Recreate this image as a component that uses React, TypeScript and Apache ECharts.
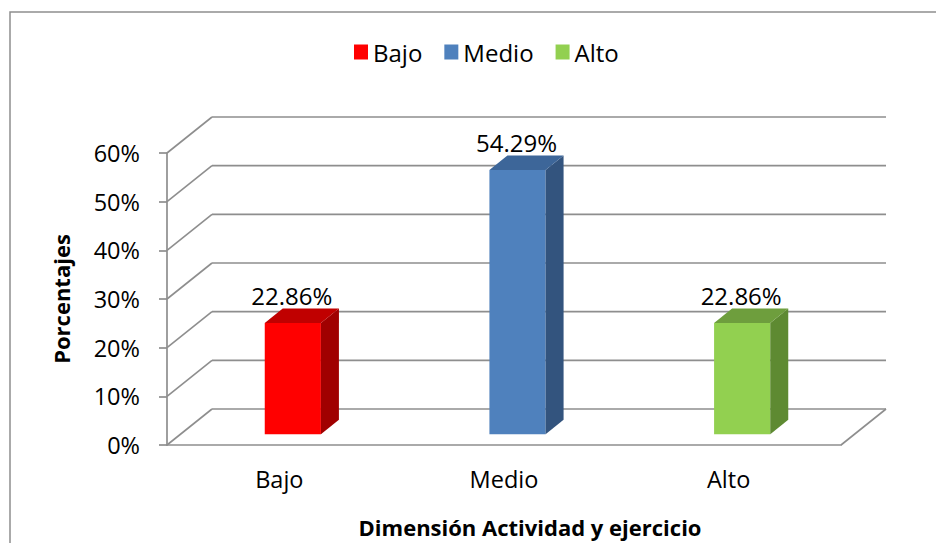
import React, { useEffect, useRef } from "react";
import * as echarts from "echarts";

const categories = ["Bajo", "Medio", "Alto"];
const values = [22.86, 54.29, 22.86];
const yTicks = [0, 10, 20, 30, 40, 50, 60];
const frontColors = ["#FF0000", "#4F81BD", "#92D050"];
const sideColors = ["#A00000", "#33547E", "#5E8A32"];
const topColors = ["#C00000", "#3D6699", "#6E9E3D"];

const DX = 45;
const DY = -36;
const GRAY = "#8e8e8e";
const FONT = "Open Sans";

export default function App() {
  const ref = useRef<HTMLDivElement>(null);
  useEffect(() => {
    if (!ref.current) return;
    const chart = echarts.init(ref.current, null, { renderer: "svg" });

    const frameSeries: any = {
      type: "custom",
      name: "frame",
      z: 1,
      silent: true,
      encode: { x: 0, y: 1 },
      data: yTicks.map((t) => [0, t]),
      renderItem: (params: any, api: any) => {
        const cs = params.coordSys;
        const v = api.value(1);
        const y = api.coord([0, v])[1];
        const x0 = cs.x;
        const x1 = cs.x + cs.width;
        const ls = { stroke: GRAY, lineWidth: 1.7, fill: "none" };
        const children: any[] = [
          { type: "line", shape: { x1: x0, y1: y, x2: x0 + DX, y2: y + DY }, style: ls },
          { type: "line", shape: { x1: x0 + DX, y1: y + DY, x2: x1 + DX, y2: y + DY }, style: ls },
        ];
        if (v === 0) {
          children.push({ type: "line", shape: { x1: x1, y1: y, x2: x1 + DX, y2: y + DY }, style: ls });
        }
        return { type: "group", children };
      },
    };

    const barSeries: any[] = categories.map((name, i) => ({
      type: "custom",
      name,
      z: 3,
      encode: { x: 0, y: 1 },
      itemStyle: { color: frontColors[i] },
      data: [[i, values[i]]],
      renderItem: (params: any, api: any) => {
        const idx = api.value(0);
        const v = api.value(1);
        const top = api.coord([idx, v]);
        const base = api.coord([idx, 0]);
        const band = api.size([1, 0])[0];
        const w = band * 0.25;
        const f0 = 0.3;
        const f1 = 0.7;
        const xl = top[0] - w / 2 + DX * f0;
        const xr = top[0] + w / 2 + DX * f0;
        const yt = top[1] + DY * f0;
        const yb = base[1] + DY * f0;
        const dx = DX * (f1 - f0);
        const dy = DY * (f1 - f0);
        return {
          type: "group",
          children: [
            { type: "rect", shape: { x: xl, y: yt, width: w, height: yb - yt }, style: { fill: frontColors[i] } },
            {
              type: "polygon",
              shape: { points: [[xr, yb], [xr, yt], [xr + dx, yt + dy], [xr + dx, yb + dy]] },
              style: { fill: sideColors[i] },
            },
            {
              type: "polygon",
              shape: { points: [[xl, yt], [xr, yt], [xr + dx, yt + dy], [xl + dx, yt + dy]] },
              style: { fill: topColors[i] },
            },
            {
              type: "text",
              x: (xl + xr) / 2 - 1,
              y: yt + dy - 13,
              style: {
                text: v.toFixed(2) + "%",
                fill: "#000",
                fontSize: 24,
                fontFamily: FONT,
                align: "center",
                verticalAlign: "middle",
              },
            },
          ],
        };
      },
    }));

    chart.setOption({
      animation: false,
      backgroundColor: "#fff",
      textStyle: { fontFamily: FONT },
      legend: {
        left: 349,
        top: 35,
        icon: "rect",
        itemWidth: 14,
        itemHeight: 15,
        itemGap: 22,
        data: categories,
        textStyle: { fontSize: 24, color: "#000", fontFamily: FONT },
      },
      grid: { left: 167, right: 95, top: 153, bottom: 98 },
      xAxis: {
        type: "category",
        data: categories,
        axisLine: { show: true, lineStyle: { color: GRAY, width: 1.7 } },
        axisTick: { show: false },
        axisLabel: { fontSize: 23.5, color: "#000", margin: 22, fontFamily: FONT },
        splitLine: { show: false },
      },
      yAxis: {
        type: "value",
        min: 0,
        max: 60,
        interval: 10,
        name: "Porcentajes",
        nameLocation: "middle",
        nameGap: 95,
        nameTextStyle: { fontSize: 22, fontWeight: "bold", color: "#000", fontFamily: FONT },
        axisLine: { show: true, lineStyle: { color: GRAY, width: 1.7 } },
        axisTick: { show: true, length: 8, lineStyle: { color: GRAY, width: 1.7 } },
        axisLabel: { formatter: "{value}%", fontSize: 23.5, color: "#000", margin: 27, fontFamily: FONT },
        splitLine: { show: false },
      },
      graphic: [
        {
          type: "rect",
          shape: { x: 10, y: 12, width: 1000, height: 600 },
          style: { fill: "none", stroke: GRAY, lineWidth: 1.5 },
          silent: true,
        },
        {
          type: "text",
          x: 530,
          y: 527,
          style: {
            text: "Dimensión Actividad y ejercicio",
            fontSize: 22,
            fontWeight: "bold",
            fontFamily: FONT,
            fill: "#000",
            align: "center",
            verticalAlign: "middle",
          },
        },
      ],
      series: [frameSeries, ...barSeries],
    });

    return () => chart.dispose();
  }, []);

  return (
    <div
      ref={ref}
      style={{ position: "fixed", left: 0, top: 0, width: 936, height: 543, background: "#fff" }}
    />
  );
}
